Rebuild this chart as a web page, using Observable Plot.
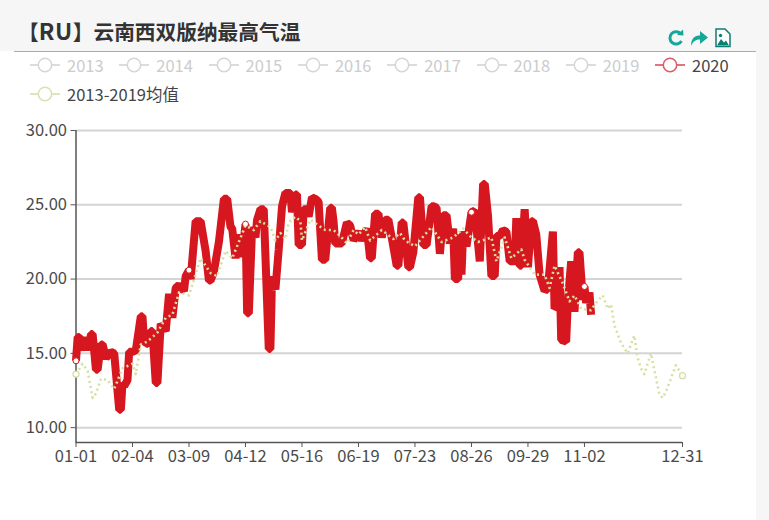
<!DOCTYPE html>
<html><head><meta charset="utf-8">
<script src="https://cdn.jsdelivr.net/npm/d3@7"></script>
<script src="https://cdn.jsdelivr.net/npm/@observablehq/plot@0.6"></script>
<style>
html,body{margin:0;padding:0;background:#fff;overflow:hidden}
#page{position:relative;width:769px;height:520px;overflow:hidden;font-family:"Noto Sans CJK SC","Noto Sans",sans-serif;color:#444}
#head{position:absolute;left:0;top:0;width:769px;height:51px;background:#f6f6f6}
#side{position:absolute;left:756px;top:0;width:13px;height:520px;background:#f6f6f6}
#rule{position:absolute;left:14px;top:51px;width:742px;height:1px;background:#aaa}
#title{position:absolute;left:18px;top:15px;font-size:20.7px;line-height:30px;font-weight:700;color:#333;white-space:nowrap}
#title span{font-size:23px;letter-spacing:.6px}
#icons{position:absolute;left:667px;top:27px}
#chart{position:absolute;left:0;top:110px}
.lg{position:absolute;font-size:16.5px;line-height:20px;white-space:nowrap}
.lg svg{position:absolute;left:-38px;top:0}
</style></head><body>
<div id="page">
<div id="head"></div><div id="side"></div><div id="rule"></div>
<div id="title">【<span>RU</span>】云南西双版纳最高气温</div>
<svg id="icons" width="68" height="22" viewBox="0 0 68 22">
<path d="M14 7 A6.2 6.2 0 1 0 14.5 14" fill="none" stroke="#14a79a" stroke-width="3"/><path d="M10 8 L16.5 8.5 L16 2.5 Z" fill="#14a79a"/>
<path d="M24 19 C24 11 28 8.5 33 8.5 V4 L41 10.5 L33 17 V12.5 C29 12.5 26 14 24 19 Z" fill="#14a79a"/>
<path d="M49 2 H58 L63 7 V19.5 H49 Z" fill="#fff" stroke="#0c7f73" stroke-width="1.5"/><path d="M50 18.5 L54 12 L57 15.5 L59 13.5 L62 18.5 Z" fill="#0c7f73"/><circle cx="53.5" cy="8.5" r="1.7" fill="#0c7f73"/>
</svg>
<div id="chart"></div>
</div>
<script>
const tickDays = [0,34,68,102,136,170,204,238,272,306,365];
const tickLabels = ["01-01","02-04","03-09","04-12","05-16","06-19","07-23","08-26","09-29","11-02","12-31"];
const yTicks = [10,15,20,25,30];
const legendYears = ["2013","2014","2015","2016","2017","2018","2019","2020","2013-2019均值"];

// [days since 01-01, °C]
const series2020 = [[0,14.5],[1,16.1],[2,16.1],[4,15.2],[5,16.1],[6,15.2],[7,16],[8,15.2],[9,16.3],[10,16.3],[12,13.9],[13,13.9],[15,15.6],[16,15.6],[18,14.7],[21,15.1],[23,15],[26,11.2],[27,11.2],[28,13],[29,12.8],[31,13.2],[32,15.1],[34,15.1],[36,15.2],[39,17.5],[40,17.5],[41,15.8],[44,15.6],[45,16.5],[46,16.5],[48,13],[49,13],[51,17],[54,16.5],[56,19],[58,17.4],[60,19.4],[62,19.6],[65,19.2],[66,20.2],[68,20.6],[69,20],[72,23.9],[75,23.9],[78,21.9],[80,19.9],[81,19.9],[83,20.5],[86,22.5],[89,25.4],[91,25.4],[93,23.5],[94,23.4],[96,21.4],[98,23],[100,21.5],[102,23.7],[103,17.7],[104,17.7],[106,23.5],[108,22.8],[109,24],[111,24.7],[113,24.7],[116,15.3],[117,15.3],[118,20.2],[120,19.3],[122,22],[124,24.9],[126,25.8],[129,25.8],[130,24.5],[132,25.7],[133,25.7],[134,22.3],[136,22.3],[137,24.7],[139,24.7],[140,24.2],[142,25.5],[144,25.4],[146,25.2],[148,21.3],[150,21.3],[153,24.8],[154,24.8],[155,23.9],[156,22.4],[160,22.4],[163,23.8],[165,23.6],[167,22.6],[170,23.2],[172,22.6],[175,23.4],[177,21.4],[178,21.4],[180,24.4],[182,24.4],[184,22.8],[186,24],[188,24],[190,22.8],[193,20.9],[194,20.9],[196,23.8],[197,23.8],[200,20.8],[201,20.8],[203,21.8],[206,25.5],[207,25.5],[209,22.3],[211,22.3],[214,24.9],[215,24.9],[217,24.8],[219,21.7],[221,24.3],[223,24.3],[225,22.4],[227,23.4],[228,20],[230,20],[231,23],[232,20.3],[233,23.2],[235,22.2],[238,24.5],[240,24.6],[243,21.2],[245,26.4],[246,26.4],[248,24.2],[250,20.2],[252,20.2],[253,22.9],[255,22.9],[257,23.3],[259,23.2],[261,21.2],[264,21.2],[265,24.1],[267,20.9],[268,20.9],[270,24.7],[272,20.8],[274,23.9],[275,23.9],[277,23],[279,20.3],[282,19.2],[284,19.4],[287,23.2],[288,18],[290,18.2],[291,20.8],[292,15.9],[295,15.8],[296,18.5],[298,21.2],[300,17.8],[302,21.8],[303,21.8],[305,18.6],[306,19.5],[307,18.4],[309,19.1],[310,17.6]];
const seriesMean = [[0,13.6],[4,14.3],[7,13.8],[10,12],[12,12.3],[15,13.3],[19,13.2],[23,12.6],[28,14],[34,14.3],[36,13.6],[39,15.6],[43,15.8],[49,16.4],[54,17.4],[58,17.6],[62,19.1],[68,18.9],[75,21.4],[81,20.4],[85,20.2],[90,21.9],[94,21.4],[102,23.6],[107,23.3],[111,23.9],[117,23.5],[120,22.6],[123,23.1],[126,22.7],[128,23.8],[132,24.2],[135,23.9],[136,22.6],[141,24],[146,23.6],[150,23.3],[155,23.3],[159,22.9],[163,22.4],[167,23.3],[170,23],[174,23.5],[177,22.6],[184,23.3],[191,22.7],[195,23.1],[198,22.6],[204,22.2],[210,23],[214,23.5],[220,22.5],[227,22.8],[233,23.4],[238,22.8],[242,22.5],[250,22.8],[253,21.2],[258,22.8],[262,21.4],[268,22],[270,21.3],[276,20.3],[282,20.3],[285,19.4],[288,20.9],[293,19.7],[297,18.5],[300,18.9],[304,18],[310,17.9],[313,18.4],[317,18.9],[320,18],[322,18.3],[324,16.9],[328,15.7],[332,15],[336,16.2],[338,14.7],[340,14],[342,13.6],[346,15],[351,12.3],[353,12],[355,12.4],[361,14.2],[365,13.5]];

const day0 = Date.UTC(2020,0,1);
const toDate = d => new Date(day0 + d*864e5);
const red = series2020.map(([d,v])=>({date:toDate(d),value:v}));
const mean = seriesMean.map(([d,v])=>({date:toDate(d),value:v}));
const tickDates = tickDays.map(toDate);
const labelOf = new Map(tickDates.map((d,i)=>[+d,tickLabels[i]]));
const markerDays = [0,68,102,238,306];
const redMarks = markerDays.map(m=>{const p=series2020.find(s=>s[0]===m);return {date:toDate(m),value:p[1]}});
const start = toDate(0), end = toDate(365);
const FONT='"Noto Sans CJK SC","Noto Sans",sans-serif';

const plot = Plot.plot({
  width:769,height:360,
  marginLeft:75.5,marginRight:87,marginTop:20,marginBottom:28,
  style:{background:"transparent",fontFamily:FONT,fontSize:"16px",color:"#555",overflow:"visible"},
  x:{type:"utc",domain:[start,end],label:null},
  y:{domain:[9,30],label:null},
  marks:[
    Plot.ruleY(yTicks,{stroke:"#d4d4d4",strokeWidth:2}),
    Plot.ruleX([start],{y1:9,y2:30,stroke:"#555",strokeWidth:1.5}),
    Plot.ruleY([9],{stroke:"#555",strokeWidth:1.5}),
    Plot.axisY({ticks:yTicks,tickFormat:d3.format(".2f"),tickSize:5,tickPadding:4,stroke:"#555",fill:"#4a4a4a",fontSize:16.5,label:null,marginLeft:75.5}),
    Plot.axisX({ticks:tickDates,tickFormat:d=>labelOf.get(+d),tickSize:5,tickPadding:3,stroke:"#555",fill:"#4a4a4a",fontSize:16.5,label:null}),
    Plot.line(red,{x:"date",y:"value",stroke:"#d7171f",strokeWidth:8,strokeLinejoin:"bevel",strokeLinecap:"butt",curve:"linear"}),
    Plot.dot(redMarks,{x:"date",y:"value",r:3,fill:"#fff",stroke:"#d7171f",strokeWidth:1}),
    Plot.line(mean,{x:"date",y:"value",stroke:"#d6e0a0",strokeWidth:2.6,strokeDasharray:"2 3.2",strokeLinecap:"butt",curve:"linear"}),
    Plot.dot([mean[0],mean[mean.length-1]],{x:"date",y:"value",r:3,fill:"#fff",stroke:"#d5dfa3",strokeWidth:1.2})
  ]
});
document.getElementById("chart").appendChild(plot);

const page=document.getElementById("page");
function legend(label,x,y,sym,txt){
  const el=document.createElement("div");el.className="lg";
  el.style.left=x+"px";el.style.top=y+"px";el.style.color=txt;el.textContent=label;
  const ns="http://www.w3.org/2000/svg";
  const s=document.createElementNS(ns,"svg");s.setAttribute("width",34);s.setAttribute("height",20);
  s.innerHTML=`<line x1="1" x2="31" y1="10" y2="10" stroke="${sym}" stroke-width="1.7"/><circle cx="16" cy="10" r="6.7" fill="#fff" stroke="${sym}" stroke-width="1.5"/>`;
  el.appendChild(s);page.appendChild(el);
}
legendYears.forEach((label,i)=>{
  if(i<7) legend(label,67+i*89.3,55,"#d6d6d6","#ccc");
  else if(i===7) legend(label,692,55,"#dc5b66","#444");
  else legend(label,67,84,"#d9e0b3","#444");
});
</script>
</body></html>
